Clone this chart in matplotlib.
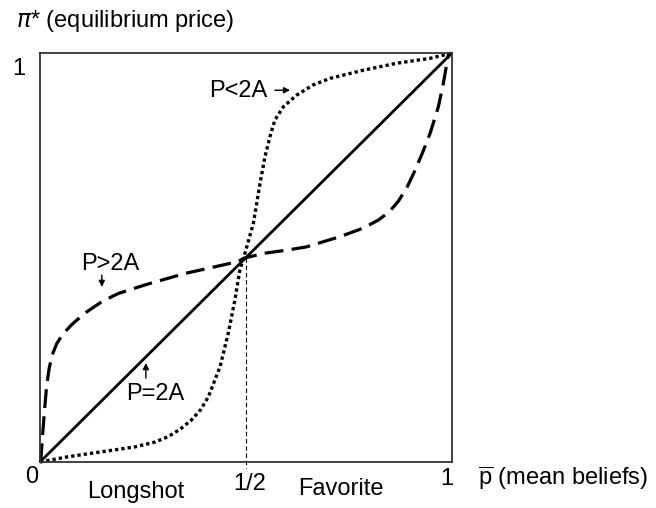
import matplotlib
matplotlib.use("Agg")
import matplotlib.pyplot as plt

plt.rcParams['font.family'] = ['Liberation Sans', 'DejaVu Sans']
plt.rcParams['mathtext.fontset'] = 'custom'
plt.rcParams['mathtext.rm'] = 'Liberation Sans'
plt.rcParams['mathtext.it'] = 'DejaVu Sans:italic'

# values (x = mean beliefs, y = equilibrium price)
diag_x = [0.0, 1.0]
diag_y = [0.0, 1.0]

# P<2A (dotted S curve)
low_x = [0.0, 0.069, 0.150, 0.231, 0.280, 0.311, 0.340, 0.368, 0.390, 0.409, 0.437, 0.457,
         0.473, 0.485, 0.494, 0.518, 0.534, 0.546, 0.558, 0.570, 0.591, 0.623, 0.663, 0.704,
         0.785, 0.866, 0.947, 1.0]
low_y = [0.0, 0.013, 0.025, 0.037, 0.049, 0.062, 0.080, 0.103, 0.128, 0.160, 0.233, 0.315,
         0.396, 0.469, 0.498, 0.584, 0.681, 0.746, 0.795, 0.836, 0.869, 0.897, 0.922, 0.938,
         0.958, 0.975, 0.987, 1.0]

# P>2A (dashed inverse S curve)
high_x = [0.0, 0.002, 0.006, 0.011, 0.016, 0.022, 0.030, 0.041, 0.055, 0.077, 0.109, 0.150,
          0.190, 0.255, 0.352, 0.481, 0.494, 0.542, 0.599, 0.647, 0.728, 0.785, 0.822, 0.848,
          0.870, 0.890, 0.908, 0.928, 0.947, 0.967, 0.979, 0.991, 1.0]
high_y = [0.0, 0.005, 0.062, 0.127, 0.185, 0.228, 0.263, 0.290, 0.312, 0.336, 0.364, 0.392,
          0.412, 0.433, 0.461, 0.490, 0.498, 0.510, 0.518, 0.526, 0.551, 0.572, 0.592, 0.612,
          0.638, 0.670, 0.708, 0.755, 0.804, 0.869, 0.926, 0.995, 1.0]

half = 0.5

fig = plt.figure(figsize=(6.56, 5.08), dpi=100)
ax = fig.add_axes([40 / 656, 46 / 508, 412 / 656, 409 / 508])
ax.set_xlim(0, 1)
ax.set_ylim(0, 1)
ax.set_xticks([])
ax.set_yticks([])
for sp in ax.spines.values():
    sp.set_color('#333333')
    sp.set_linewidth(1.3)

ax.plot(diag_x, diag_y, color='black', lw=2.0, solid_capstyle='butt')
ax.plot(low_x, low_y, color='black', lw=2.4, linestyle=(0, (1, 0.9)), dash_capstyle='butt',
        clip_on=False)
ax.plot(high_x, high_y, color='black', lw=2.3, linestyle=(0, (5.9, 2.6)), clip_on=False)

# thin vertical guide at 1/2
ax.plot([half, half], [half, -0.015], color='black', lw=0.8, linestyle=(0, (4, 2.5)),
        clip_on=False)

fs = 17
ax.text(-0.058, 1.064, r'$\pi$* (equilibrium price)', fontsize=fs, ha='left', va='baseline')
ax.text(-0.068, 0.946, '1', fontsize=fs, ha='left', va='baseline')
ax.text(-0.020, -0.051, '0', fontsize=fs, ha='center', va='baseline')
ax.text(0.51, -0.068, '1/2', fontsize=fs, ha='center', va='baseline')
ax.text(0.987, -0.056, '1', fontsize=fs, ha='center', va='baseline')
ax.text(1.063, -0.056, r'$\overline{\mathrm{p}}$ (mean beliefs)', fontsize=fs, ha='left',
        va='baseline')
ax.text(0.233, -0.088, 'Longshot', fontsize=fs, ha='center', va='baseline')
ax.text(0.731, -0.081, 'Favorite', fontsize=fs, ha='center', va='baseline')

ax.text(0.410, 0.892, 'P<2A', fontsize=fs, ha='left', va='baseline')
ax.text(0.099, 0.469, 'P>2A', fontsize=fs, ha='left', va='baseline')
ax.text(0.208, 0.152, 'P=2A', fontsize=fs, ha='left', va='baseline')

arrow = dict(arrowstyle='-|>', color='black', lw=1.0, mutation_scale=9,
             shrinkA=0, shrinkB=0)
ax.annotate('', xy=(0.607, 0.909), xytext=(0.570, 0.909), arrowprops=arrow)
ax.annotate('', xy=(0.150, 0.428), xytext=(0.150, 0.457), arrowprops=arrow)
ax.annotate('', xy=(0.257, 0.242), xytext=(0.257, 0.205), arrowprops=arrow)

fig.savefig('out.png', dpi=100)
